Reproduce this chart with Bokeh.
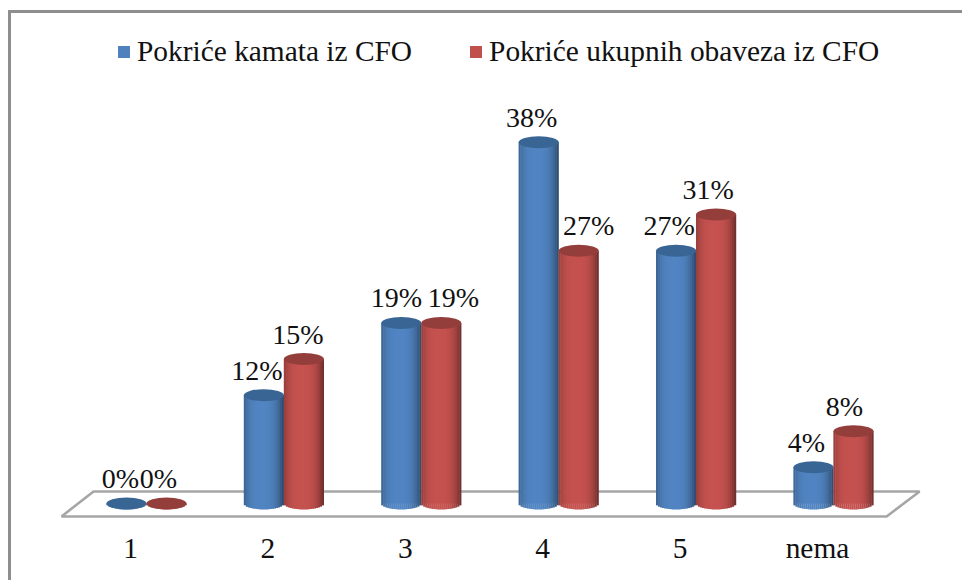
import math
from bokeh.plotting import figure
from bokeh.models import ColumnDataSource, Legend, LegendItem, FixedTicker, Range1d
from bokeh.core.properties import value
from bokeh.embed import file_html
from bokeh.resources import INLINE

categories = ["1", "2", "3", "4", "5", "nema"]
series_names = ["Pokriće kamata iz CFO", "Pokriće ukupnih obaveza iz CFO"]
kamata = [0, 11.54, 19.23, 38.46, 26.92, 3.85]
obaveze = [0, 15.38, 19.23, 26.92, 30.77, 7.69]
labels_kamata = ["0%", "12%", "19%", "38%", "27%", "4%"]
labels_obaveze = ["0%", "15%", "19%", "27%", "31%", "8%"]
label_dx_kamata = [-6, -7, -5, -7, -7, -7]
label_dx_obaveze = [-8, -6, 12, 10, -8, -9]
colors = ["#4f81bd", "#c0504d"]
top_colors = ["#386594", "#943e3b"]

PX_X, PX_Y = 137.4, 9.39
W, H, AXIS_H = 962, 580, 56
x0_px, y0_px = 130, 503  # canvas position of category 0 tick and of the zero level
inner_h = H - AXIS_H

p = figure(width=W, height=H, output_backend="svg", toolbar_location=None,
           min_border=0, min_border_left=0, min_border_right=0, min_border_top=0,
           min_border_bottom=AXIS_H,
           x_range=Range1d(-x0_px / PX_X, (W - x0_px) / PX_X),
           y_range=Range1d((y0_px - inner_h) / PX_Y, y0_px / PX_Y),
           background_fill_alpha=0, border_fill_alpha=0)
# chart frame: only its top and left edges show in the picture
p.styles = {
    "background-color": "white",
    "background-image": "linear-gradient(#8e8e8e,#8e8e8e),linear-gradient(#8e8e8e,#8e8e8e)",
    "background-size": "100% 3px,3px 100%",
    "background-position": "8px 10px,8px 10px",
    "background-repeat": "no-repeat",
}
p.outline_line_color = None
p.grid.visible = False
p.yaxis.visible = False

ax = p.xaxis[0]
ax.ticker = FixedTicker(ticks=list(range(len(categories))))
ax.major_label_overrides = {i: c for i, c in enumerate(categories)}
ax.axis_line_color = None
ax.major_tick_line_color = None
ax.minor_tick_line_color = None
ax.major_label_text_font = "Liberation Serif"
ax.major_label_text_font_size = "29.4px"
ax.major_label_text_color = "#111111"
ax.major_label_standoff = 1

# floor
p.patch([-0.502, -0.269, 5.743, 5.503], [-1.38, 1.28, 1.28, -1.38],
        fill_color="white", line_color="#a6a6a6", line_width=2.6)

CENTER = 16 / PX_X
HALF = 20 / PX_X
ELL = 12 / PX_Y
N = 20

def shade(hexcol, t):
    r, g, b = (int(hexcol[i:i + 2], 16) for i in (1, 3, 5))
    f = 1.03 - 0.36 * abs(t + 0.1) ** 3
    return "#%02x%02x%02x" % tuple(min(255, int(c * f)) for c in (r, g, b))

legend_items = []
for s, (vals, col, tcol) in enumerate(zip((kamata, obaveze), colors, top_colors)):
    off = CENTER + (2 * s - 1) * HALF
    xs = [i + off for i in range(len(vals))]
    base = p.vbar(x=xs, top=vals, bottom=0, width=2 * HALF * 0.9, fill_color=col, line_color=None)
    legend_items.append(LegendItem(label=series_names[s], renderers=[base]))
    sx, st, sb, sc = [], [], [], []
    for x, v in zip(xs, vals):
        for k in range(N):
            t = -1 + (2 * k + 1) / N
            sx.append(x + t * HALF)
            st.append(v)
            sb.append(-ELL / 2 * math.sqrt(max(0, 1 - t * t)))
            sc.append(shade(col, t))
    p.vbar(x=sx, top=st, bottom=sb, width=2 * HALF / N * 1.12, fill_color=sc, line_color=None)
    p.ellipse(x=xs, y=vals, width=2 * HALF, height=ELL, fill_color=tcol, line_color=None)

# data labels
for vals, labs, dx, off in ((kamata, labels_kamata, label_dx_kamata, -HALF),
                            (obaveze, labels_obaveze, label_dx_obaveze, HALF)):
    src = ColumnDataSource(dict(x=[i + CENTER + off for i in range(len(vals))], y=vals,
                                t=labs, dx=dx))
    p.text(x="x", y="y", text="t", x_offset="dx", y_offset=-25, source=src,
           text_font=value("Liberation Serif"), text_font_size="28px", text_color="#111111",
           text_align="center", text_baseline="middle")

legend = Legend(items=legend_items, orientation="horizontal", location=(116, inner_h - 68),
                label_text_font="Liberation Serif", label_text_font_size="29.4px",
                label_text_color="#111111", glyph_width=15, glyph_height=15, label_standoff=6,
                spacing=56, padding=0, margin=0, border_line_color=None,
                background_fill_alpha=0)
p.add_layout(legend, "center")

open("out.html", "w").write(file_html(p, INLINE))
